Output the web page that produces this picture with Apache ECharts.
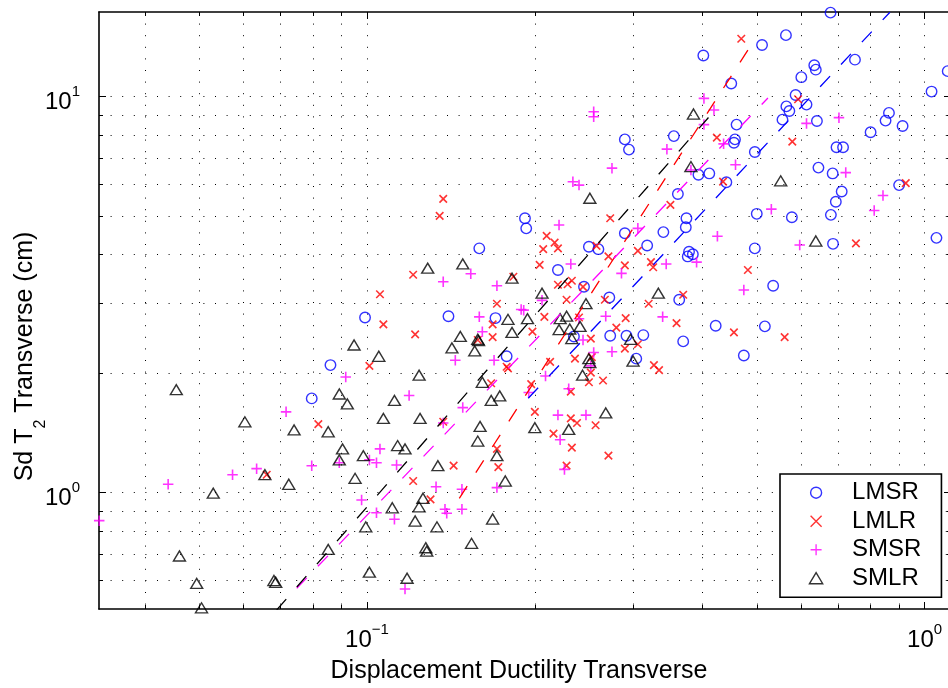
<!DOCTYPE html>
<html>
<head>
<meta charset="utf-8">
<title>Sd T2 vs displacement ductility</title>
<script src="https://cdn.jsdelivr.net/npm/echarts@6/dist/echarts.min.js"></script>
<style>
  html, body { margin: 0; padding: 0; background: #fff; }
  #chart { width: 948px; height: 688px; }
</style>
</head>
<body>
<div id="chart"></div>
<script>
// axis limits (log scale)
var X_MIN = 0.03307, X_MAX = 1.115;
var Y_MIN = 0.5085, Y_MAX = 16.36;

// tick positions
var X_MAJOR = [0.1, 1];
var X_MINOR = [0.04, 0.05, 0.06, 0.07, 0.08, 0.09, 0.2, 0.3, 0.4, 0.5, 0.6, 0.7, 0.8, 0.9];
var Y_MAJOR = [1, 10];
var Y_MINOR = [0.6, 0.7, 0.8, 0.9, 2, 3, 4, 5, 6, 7, 8, 9];

// [ductility, Sd]
var LMSR = [[0.678,16.3],[0.564,14.3],[0.511,13.5],[0.401,12.7],[0.75,12.4],[0.634,12.0],[0.638,11.7],[0.601,11.2],
  [1.10,11.6],[0.45,10.8],[1.029,10.3],[0.587,10.1],[0.614,9.55],[0.565,9.45],[0.572,9.2],[0.556,8.75],[0.46,8.5],
  [0.641,8.68],[0.863,9.1],[0.851,8.7],[0.913,8.43],[0.80,8.13],[0.29,7.8],[0.295,7.35],[0.355,7.95],[0.457,7.8],
  [0.455,7.65],[0.695,7.45],[0.714,7.45],[0.496,7.25],[0.645,6.62],[0.684,6.4],[0.393,6.35],[0.411,6.4],[0.441,6.08],
  [0.90,5.98],[0.361,5.68],[0.71,5.76],[0.693,5.43],[0.50,5.06],[0.578,4.96],[0.679,5.03],[0.374,4.93],[0.373,4.68],
  [0.34,4.55],[0.29,4.52],[1.05,4.4],[0.685,4.25],[0.318,4.21],[0.496,4.14],[0.378,4.06],[0.384,4.0],[0.376,3.95],
  [0.535,3.33],[0.363,3.07],[0.422,2.64],[0.517,2.63],[0.292,2.49],[0.313,2.5],[0.369,2.41],[0.474,2.22],[0.304,2.18],
  [0.193,4.65],[0.192,4.93],[0.159,4.14],[0.25,4.18],[0.26,4.12],[0.22,3.65],[0.245,3.31],[0.272,3.11],[0.0992,2.77],
  [0.14,2.79],[0.17,2.76],[0.235,2.48],[0.273,2.49],[0.178,2.21],[0.086,2.1],[0.0796,1.73]];

var LMLR = [[0.469,14.0],[0.593,9.85],[0.424,7.88],[0.579,7.7],[0.435,6.1],[0.925,6.05],[0.35,5.33],[0.753,4.26],
  [0.306,4.08],[0.323,3.82],[0.326,3.71],[0.29,3.75],[0.482,3.65],[0.369,3.16],[0.32,3.0],[0.291,2.76],[0.359,2.68],
  [0.455,2.54],[0.561,2.47],[0.29,2.31],[0.306,2.37],[0.327,2.1],[0.334,2.04],[0.137,5.52],[0.135,5.0],[0.273,4.93],
  [0.21,4.45],[0.217,4.28],[0.22,4.14],[0.207,4.12],[0.258,4.2],[0.271,3.95],[0.204,3.76],[0.121,3.55],[0.183,3.51],
  [0.22,3.35],[0.229,3.36],[0.233,3.43],[0.244,3.31],[0.1055,3.17],[0.171,3.0],[0.228,3.07],[0.267,3.07],[0.208,2.78],
  [0.24,2.77],[0.168,2.66],[0.107,2.66],[0.28,2.61],[0.198,2.55],[0.252,2.45],[0.168,2.47],[0.158,2.43],[0.122,2.51],
  [0.236,2.18],[0.253,2.2],[0.101,2.09],[0.178,2.08],[0.179,2.06],[0.213,2.14],[0.252,2.01],[0.167,1.89],[0.197,1.88],
  [0.25,1.9],[0.265,1.92],[0.232,1.8],[0.2,1.6],[0.232,1.54],[0.238,1.5],[0.257,1.48],[0.0818,1.49],[0.137,1.51],
  [0.216,1.41],[0.233,1.3],[0.171,1.29],[0.271,1.24],[0.143,1.17],[0.172,1.16],[0.228,1.17],[0.121,1.07],[0.13,0.962],
  [0.0661,1.11]];

var SMSR = [[0.255,9.16],[0.255,8.9],[0.275,6.6],[0.234,6.1],[0.24,5.98],[0.221,4.74],[0.402,9.9],[0.419,9.25],
  [0.402,8.5],[0.614,8.56],[0.702,8.85],[0.436,7.6],[0.345,7.37],[0.458,6.73],[0.722,6.43],[0.381,6.53],[0.842,5.63],
  [0.812,5.16],[0.531,5.2],[0.306,4.65],[0.425,4.44],[0.597,4.22],[0.39,3.82],[0.344,3.78],[0.286,3.58],[0.474,3.25],
  [0.339,2.78],[0.232,3.78],[0.1535,3.57],[0.137,3.41],[0.171,3.33],[0.206,3.06],[0.189,2.9],[0.191,2.89],[0.159,2.78],
  [0.24,2.75],[0.268,2.79],[0.161,2.55],[0.244,2.43],[0.255,2.26],[0.275,2.27],[0.169,2.16],[0.144,2.16],[0.252,2.09],
  [0.209,1.97],[0.0916,1.96],[0.195,1.79],[0.23,1.83],[0.119,1.76],[0.1485,1.64],[0.22,1.57],[0.247,1.57],[0.137,1.5],
  [0.222,1.36],[0.1055,1.29],[0.0796,1.17],[0.0892,1.19],[0.101,1.21],[0.104,1.19],[0.113,1.175],[0.226,1.145],
  [0.171,1.03],[0.133,1.035],[0.148,1.02],[0.0978,0.958],[0.104,0.89],[0.138,0.908],[0.139,0.887],[0.148,0.908],
  [0.112,0.857],[0.117,0.571],[0.0634,1.15],[0.0574,1.11],[0.044,1.05],[0.0331,0.85],[0.0716,1.6]];

var SMLR = [[0.251,5.54],[0.385,9.04],[0.381,6.66],[0.552,6.13],[0.638,4.32],[0.333,3.19],[0.297,2.44],[0.30,2.15],
  [0.1285,3.69],[0.1485,3.78],[0.182,3.48],[0.206,3.19],[0.247,3.0],[0.179,2.74],[0.194,2.75],[0.222,2.75],[0.228,2.79],
  [0.241,2.63],[0.221,2.58],[0.231,2.59],[0.182,2.54],[0.233,2.45],[0.147,2.48],[0.158,2.44],[0.1585,2.42],[0.0948,2.36],
  [0.142,2.32],[0.156,2.28],[0.105,2.21],[0.25,2.18],[0.251,2.13],[0.2435,1.98],[0.124,1.98],[0.161,1.9],[0.0892,1.775],
  [0.0922,1.675],[0.112,1.71],[0.167,1.71],[0.173,1.755],[0.268,1.59],[0.107,1.54],[0.1245,1.54],[0.0852,1.425],
  [0.1595,1.47],[0.2,1.46],[0.23,1.445],[0.158,1.35],[0.0904,1.29],[0.0892,1.21],[0.1135,1.315],[0.117,1.29],
  [0.0985,1.24],[0.171,1.24],[0.134,1.17],[0.0952,1.087],[0.177,1.07],[0.126,0.968],[0.124,0.921],[0.111,0.916],
  [0.168,0.858],[0.122,0.848],[0.1335,0.82],[0.0995,0.82],[0.154,0.745],[0.0852,0.719],[0.1275,0.726],[0.128,0.712],
  [0.101,0.63],[0.118,0.608],[0.0656,1.11],[0.0724,1.05],[0.053,0.997],[0.0461,0.692],[0.0495,0.59],[0.0681,0.6],
  [0.0686,0.594],[0.0505,0.512],[0.0455,1.82],[0.0604,1.51],[0.074,1.44]];

// fitted power-law lines, end points
var FIT_LMSR = [[0.1946, 1.731], [0.8665, 16.34]];
var FIT_LMLR = [[0.1464, 0.968], [0.4822, 13.12]];
var FIT_SMSR = [[0.07482, 0.5735], [0.5236, 9.924]];
var FIT_SMLR = [[0.06887, 0.5056], [0.4104, 8.887]];

var FONT = '"Liberation Sans", Arial, Helvetica, sans-serif';
var lg = function (v) { return Math.log10(v); };

function powLabel(v) {
    var e = Math.round(v);
    return '{b|10}{s|' + (e < 0 ? '\u2212' + (-e) : e) + '}';
}
var powRich = {
    b: { fontSize: 24, fontFamily: FONT, color: '#000', verticalAlign: 'top', lineHeight: 24, padding: [6, 0, 4, 0] },
    s: { fontSize: 15, fontFamily: FONT, color: '#000', verticalAlign: 'top', lineHeight: 15 }
};
var dotted = { color: '#000', width: 1, type: [1, 10.6] };

// frame axes: linear in log10 units, only draw box, ticks, grid and labels
function frameAxis(position, min, max, ticks, len, withLine, withGrid) {
    return {
        type: 'value', position: position, min: lg(min), max: lg(max),
        axisLine: { show: withLine, onZero: false, lineStyle: { color: '#000', width: 1.6 } },
        axisTick: { show: true, inside: true, length: len, customValues: ticks.map(lg),
                    lineStyle: { color: '#000', width: 1 } },
        axisLabel: { show: false },
        splitLine: { show: withGrid, lineStyle: dotted }
    };
}

var xAll = X_MINOR.concat(X_MAJOR);
var yAll = Y_MINOR.concat(Y_MAJOR);

var xBottomMajor = frameAxis('bottom', X_MIN, X_MAX, X_MAJOR, 7, false, false);
xBottomMajor.axisLabel = { show: true, margin: 13, customValues: X_MAJOR.map(lg), formatter: powLabel, rich: powRich };
xBottomMajor.name = 'Displacement Ductility Transverse';
xBottomMajor.nameLocation = 'middle';
xBottomMajor.nameGap = 50;
xBottomMajor.nameMoveOverlap = false;
xBottomMajor.nameTextStyle = { fontSize: 25, fontFamily: FONT, color: '#000', padding: [0, 12, 0, 0] };

var yLeftMajor = frameAxis('left', Y_MIN, Y_MAX, Y_MAJOR, 7, false, false);
yLeftMajor.axisLabel = { show: true, margin: 19, customValues: Y_MAJOR.map(lg), formatter: powLabel, rich: powRich };
yLeftMajor.name = '{a|Sd T}{sub|2}{a| Transverse (cm)}';
yLeftMajor.nameLocation = 'middle';
yLeftMajor.nameGap = 61;
yLeftMajor.nameMoveOverlap = false;
yLeftMajor.nameTextStyle = {
    fontSize: 25, fontFamily: FONT, color: '#000', padding: [0, 92, 0, 0],
    rich: {
        a: { fontSize: 25, fontFamily: FONT, color: '#000', verticalAlign: 'top', lineHeight: 25 },
        sub: { fontSize: 16, fontFamily: FONT, color: '#000', verticalAlign: 'top', lineHeight: 16, padding: [20, 0, 0, 0] }
    }
};

function scatter(name, data, symbol, size, color, lw) {
    return {
        name: name, type: 'scatter', data: data, symbol: symbol, symbolSize: size,
        clip: false, silent: true, z: 2,
        itemStyle: { color: 'none', borderColor: color, borderWidth: lw }
    };
}
function fitLine(name, data, color) {
    return {
        name: name, type: 'line', data: data, symbol: 'none', clip: true, silent: true, z: 3,
        lineStyle: { color: color, width: 1.3, type: [14.5, 16] }
    };
}

var chart = echarts.init(document.getElementById('chart'), null, { renderer: 'canvas' });
chart.setOption({
    backgroundColor: '#fff',
    animation: false,
    grid: { left: 99, top: 12, right: -3, bottom: 79, containLabel: false, outerBoundsMode: 'none' },
    xAxis: [
        { type: 'log', show: false, min: X_MIN, max: X_MAX, splitLine: { show: false } },
        frameAxis('bottom', X_MIN, X_MAX, xAll, 4, true, true),
        xBottomMajor,
        frameAxis('top', X_MIN, X_MAX, X_MINOR, 4, true, false),
        frameAxis('top', X_MIN, X_MAX, X_MAJOR, 7, false, false)
    ],
    yAxis: [
        { type: 'log', show: false, min: Y_MIN, max: Y_MAX, splitLine: { show: false } },
        frameAxis('left', Y_MIN, Y_MAX, yAll, 4, true, true),
        yLeftMajor,
        frameAxis('right', Y_MIN, Y_MAX, Y_MINOR, 4, true, false),
        frameAxis('right', Y_MIN, Y_MAX, Y_MAJOR, 7, false, false)
    ],
    legend: {
        data: ['LMSR', 'LMLR', 'SMSR', 'SMLR'],
        orient: 'vertical', left: 780, top: 474,
        padding: [6.7, 20, 7, 27], itemGap: 4.5, itemWidth: 62, itemHeight: 11,
        backgroundColor: '#fff', borderColor: '#000', borderWidth: 1.6, borderRadius: 0,
        textStyle: { fontSize: 24, fontFamily: FONT, color: '#000' },
        itemStyle: { borderWidth: 1.4 },
        selectedMode: false
    },
    series: [
        scatter('LMSR', LMSR, 'circle', 10.5, '#0000ff', 1.4),
        scatter('LMLR', LMLR, 'path://M0,0L10,10M10,0L0,10', 7.5, '#ff0000', 1.6),
        scatter('SMSR', SMSR, 'path://M5,0L5,10M0,5L10,5', 10.5, '#ff00ff', 1.6),
        scatter('SMLR', SMLR, 'path://M0,10L6,0L12,10Z', [12, 10], '#000000', 1.4),
        fitLine('LMSR fit', FIT_LMSR, '#0000ff'),
        fitLine('LMLR fit', FIT_LMLR, '#ff0000'),
        fitLine('SMSR fit', FIT_SMSR, '#ff00ff'),
        fitLine('SMLR fit', FIT_SMLR, '#000000')
    ]
});
</script>
</body>
</html>
